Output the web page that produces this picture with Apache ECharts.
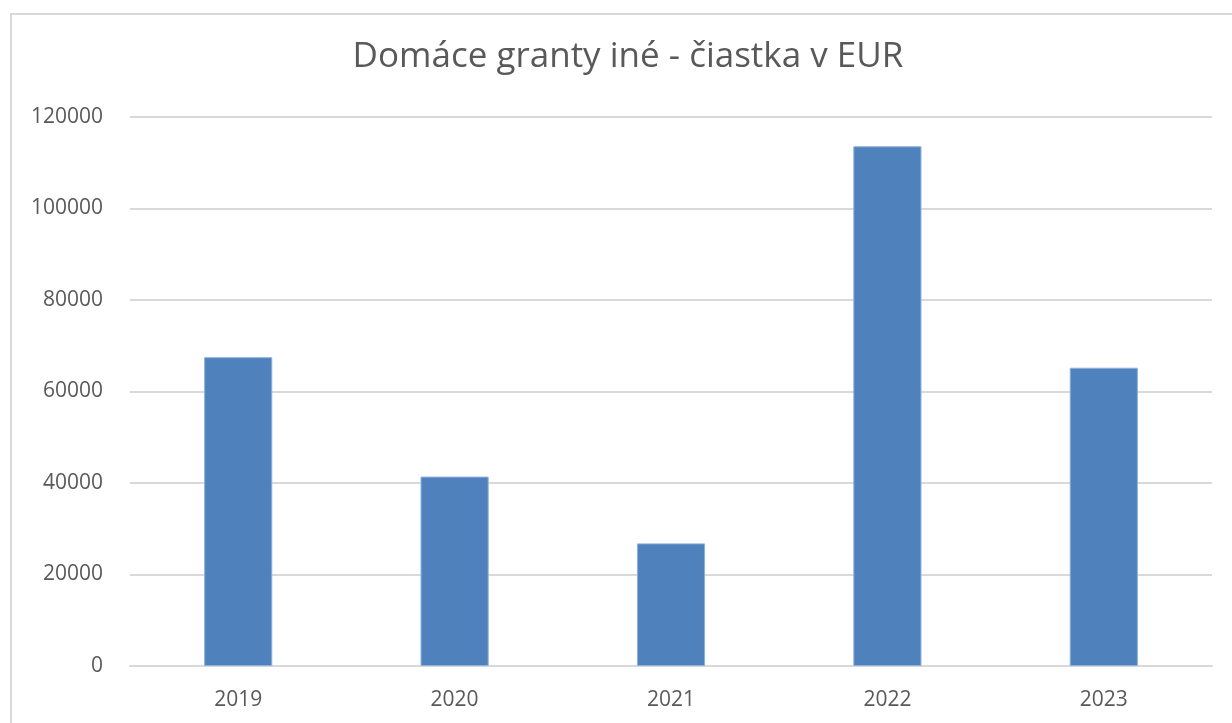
<!DOCTYPE html>
<html>
<head>
<meta charset="utf-8">
<script src="https://cdn.jsdelivr.net/npm/echarts@6/dist/echarts.min.js"></script>
<style>
  html, body { margin: 0; padding: 0; background: #fff; }
  #frame { position: absolute; left: 10px; top: 13px; width: 1240px; height: 730px; border-top: 2px solid #d9d9d9; border-left: 2px solid #d9d9d9; }
  #chart { position: absolute; left: 0; top: 0; width: 1232px; height: 723px; }
</style>
</head>
<body>
<div id="frame"></div>
<div id="chart"></div>
<script>
// roky a sumy (EUR)
var years = ['2019', '2020', '2021', '2022', '2023'];
var amounts = [67500, 41400, 26800, 113600, 65200];
var titleText = 'Domáce granty iné - čiastka v EUR';

var myChart = echarts.init(document.getElementById('chart'));
var font = '"Open Sans", sans-serif';
var option = {
    animation: false,
    graphic: [
        {
            type: 'text',
            x: 628,
            y: 57,
            style: {
                text: titleText,
                fill: '#595959',
                font: '35px ' + font,
                align: 'center',
                verticalAlign: 'middle'
            }
        }
    ],
    grid: {
        left: 130,
        right: 20,
        top: 117,
        bottom: 57
    },
    xAxis: {
        type: 'category',
        data: years,
        axisLine: { lineStyle: { color: '#d9d9d9', width: 2 } },
        axisTick: { show: false },
        axisLabel: { color: '#595959', fontSize: 21, fontFamily: font, margin: 24 }
    },
    yAxis: {
        type: 'value',
        min: 0,
        max: 120000,
        interval: 20000,
        axisLine: { show: false },
        axisTick: { show: false },
        axisLabel: {
            color: '#595959', fontSize: 21, fontFamily: font, margin: 27,
            formatter: function (v) { return String(v); }
        },
        splitLine: { lineStyle: { color: '#d9d9d9', width: 2 } }
    },
    series: [
        {
            type: 'bar',
            data: amounts,
            barWidth: '31.5%',
            itemStyle: { color: '#4f81bd', borderColor: '#8fb0dc', borderWidth: 1 }
        }
    ]
};
myChart.setOption(option);
</script>
</body>
</html>
